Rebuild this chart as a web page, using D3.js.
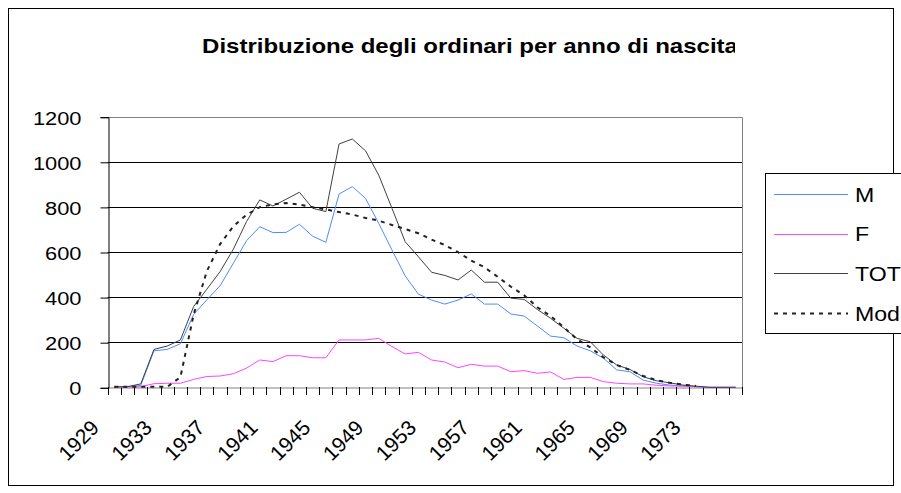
<!DOCTYPE html>
<html><head><meta charset="utf-8">
<script src="https://cdn.jsdelivr.net/npm/d3@7"></script>
<style>body{margin:0;background:#fff}svg{display:block}text{font-family:"Liberation Sans",Arial,sans-serif}</style>
</head><body>
<script>
const years = d3.range(1929, 1977);
const tickYears = [1929,1933,1937,1941,1945,1949,1953,1957,1961,1965,1969,1973];
const yTicks = [0,200,400,600,800,1000,1200];
const M = [1,2,8,162,168,193,323,388,450,550,650,712,686,687,723,670,643,857,890,838,727,609,494,413,387,369,387,414,369,369,325,316,272,227,220,183,162,129,77,69,32,18,10,6,3,0,0,0];
const F = [0,1,3,16,18,18,35,48,50,60,85,121,114,140,140,131,131,210,210,210,217,181,148,155,121,112,87,102,94,94,69,74,62,68,35,44,44,25,18,15,15,9,6,5,3,0,0,0];
const TOT = [2,3,15,168,183,210,358,435,513,612,735,831,804,834,865,794,779,1079,1101,1049,941,794,646,579,510,496,476,520,466,466,395,390,345,306,262,217,202,143,99,79,47,29,20,10,5,0,0,0];
const Mod = [2,2,2,2,2,45,322,515,635,714,765,799,811,817,810,799,789,777,766,751,739,720,702,683,655,631,599,562,532,490,446,408,355,316,266,213,177,133,99,77,50,32,20,12,6,null,null,null];
const seriesNames = ["M","F","TOT","Mod"];
const title = "Distribuzione degli ordinari per anno di nascita";

const W = 901, H = 493;
const svg = d3.select("body").append("svg").attr("width", W).attr("height", H);

// outer frame
svg.append("rect").attr("x",8.5).attr("y",8.5).attr("width",885).attr("height",477)
  .attr("fill","#fff").attr("stroke","#000").attr("stroke-width",1);

const L = 107.7, R = 742.3, T = 116.7, B = 387.3;
const x = d3.scaleBand().domain(years).range([L, R]).padding(0);
const y = d3.scaleLinear().domain([0, 1200]).range([B, T]);
const cx = d => x(d) + x.bandwidth()/2;

// gridlines
svg.append("g").selectAll("line").data(yTicks.filter(v => v > 0)).join("line")
  .attr("x1", L).attr("x2", R)
  .attr("y1", d => Math.round(y(d)) + 0.5).attr("y2", d => Math.round(y(d)) + 0.5)
  .attr("stroke", d => d === 1200 ? "#808080" : "#000").attr("stroke-width", 1);
// right border
svg.append("line").attr("x1", Math.round(R)+0.5).attr("x2", Math.round(R)+0.5)
  .attr("y1", Math.round(T)+0.5).attr("y2", Math.round(B)+0.5).attr("stroke","#808080");

// y axis
const yAxis = d3.axisLeft(y).tickValues(yTicks).tickSize(8).tickFormat(d3.format("d"));
const gy = svg.append("g").attr("transform", `translate(${Math.round(L)+0.5},0.5)`).call(yAxis);
gy.select(".domain").attr("stroke","#000");
gy.selectAll(".tick line").attr("stroke","#000");
gy.selectAll(".tick text")
  .attr("x", null).attr("transform", "translate(-27,0) scale(1.15,1)").attr("dy","0.36em")
  .attr("font-size", 19).attr("fill","#000").attr("font-family","Liberation Sans, Arial, sans-serif");

// x axis
const xAxis = d3.axisBottom(x).tickValues([]).tickSize(0);
const gx = svg.append("g").attr("transform", `translate(0,${Math.round(B)+0.5})`).call(xAxis);
gx.select(".domain").attr("stroke","#808080");
svg.append("g").selectAll("line").data(years.concat([null])).join("line")
  .attr("x1", (d,i) => Math.round(L + i * x.bandwidth()) + 0.5)
  .attr("x2", (d,i) => Math.round(L + i * x.bandwidth()) + 0.5)
  .attr("y1", Math.round(B)).attr("y2", Math.round(B) + 8)
  .attr("stroke", "#000");
svg.append("g").selectAll("text").data(tickYears).join("text")
  .attr("transform", d => `translate(${cx(d) - 14},${429}) rotate(-45)`)
  .attr("text-anchor","end").attr("font-size",21).attr("fill","#000").text(d => d);

// lines
const line = d3.line().defined(d => d.v !== null).x(d => cx(d.year)).y(d => y(d.v));
const mk = arr => years.map((yr,i) => ({year: yr, v: arr[i]}));
const styles = {
  M: {data: M, color: "#4d8cff", dash: null, width: 1},
  F: {data: F, color: "#ff44ff", dash: null, width: 1},
  TOT: {data: TOT, color: "#404040", dash: null, width: 1},
  Mod: {data: Mod, color: "#222", dash: "4,5", width: 2}
};
["M","F","TOT","Mod"].forEach(k => {
  const s = styles[k];
  svg.append("path").datum(mk(s.data)).attr("d", line).attr("fill","none")
    .attr("stroke", s.color).attr("stroke-width", s.width)
    .attr("stroke-dasharray", s.dash);
});

// title (clipped)
svg.append("clipPath").attr("id","tclip").append("rect").attr("x",100).attr("y",20).attr("width",635).attr("height",50);
svg.append("g").attr("clip-path","url(#tclip)")
  .append("text").attr("transform", "translate(470,53) scale(1.2,1)")
  .attr("text-anchor","middle").attr("font-size",20).attr("font-weight","bold").text(title);

// legend
const lg = svg.append("g");
lg.append("rect").attr("x",765.5).attr("y",173.5).attr("width",150).attr("height",160)
  .attr("fill","#fff").attr("stroke","#000");
seriesNames.forEach((k,i) => {
  const s = styles[k];
  const yy = 194 + i * 39.7;
  lg.append("line").attr("x1",774).attr("x2",848).attr("y1",Math.round(yy)+0.5).attr("y2",Math.round(yy)+0.5)
    .attr("stroke", s.color).attr("stroke-width", s.width).attr("stroke-dasharray", s.dash);
  lg.append("text").attr("transform", `translate(855,${yy}) scale(1.1,1)`).attr("dy","0.36em")
    .attr("font-size",21).attr("fill","#000").text(k);
});
</script>
</body></html>
